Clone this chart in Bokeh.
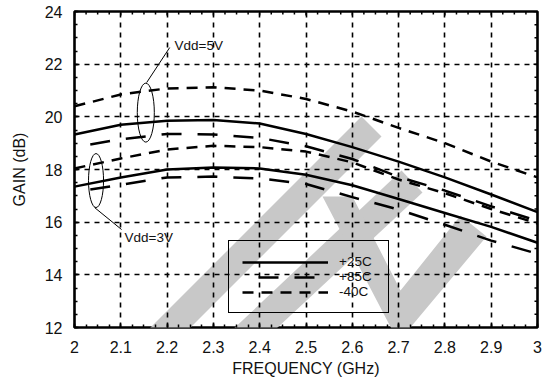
import numpy as np
from bokeh.plotting import figure
from bokeh.models import (SingleIntervalTicker, CustomJSTickFormatter, Label,
                          Legend, LegendItem, PolyAnnotation, Range1d)
from bokeh.embed import file_html
from bokeh.resources import INLINE

# ---------------- data ----------------
freq_ghz = [2.0, 2.1, 2.2, 2.3, 2.4, 2.5, 2.6, 2.7, 2.8, 2.9, 3.0]

gain_5v_25c = [19.33, 19.70, 19.85, 19.88, 19.75, 19.35, 18.85, 18.30, 17.70, 17.05, 16.38]
gain_5v_85c = [18.85, 19.15, 19.35, 19.33, 19.20, 18.88, 18.40, 17.72, 17.20, 16.60, 16.05]
gain_5v_m40c = [20.40, 20.85, 21.08, 21.12, 21.00, 20.68, 20.20, 19.58, 19.00, 18.30, 17.70]

gain_3v_25c = [17.35, 17.70, 18.00, 18.08, 18.04, 17.80, 17.40, 16.88, 16.35, 15.82, 15.22]
gain_3v_85c = [17.15, 17.42, 17.70, 17.73, 17.66, 17.45, 16.95, 16.48, 15.90, 15.30, 14.80]
gain_3v_m40c = [18.04, 18.42, 18.76, 18.90, 18.85, 18.68, 18.27, 17.62, 17.10, 16.50, 15.95]

legend_labels = ["+25C", "+85C", "-40C"]
x_label = "FREQUENCY (GHz)"
y_label = "GAIN (dB)"
x_min, x_max, x_step = 2.0, 3.0, 0.1
y_min, y_max, y_step = 12, 24, 2

FONT = "Liberation Sans"
INK = "#111111"
GRAY = "#c8c8c8"

p = figure(width=546, height=383, output_backend="svg", toolbar_location=None,
           x_range=Range1d(x_min, x_max), y_range=Range1d(y_min, y_max),
           min_border_left=74, min_border_right=9, min_border_top=11, min_border_bottom=56)

# ---------------- watermark (reference pixel geometry -> data) ----------------
def px2x(px):
    return 2 + (px - 74) / 463.0

def px2y(py):
    return 24 - (py - 11) / (316.0 / 12)

wm_polys_px = [
    [(361, 116), (381, 136), (134, 383), (94, 383)],
    [(401, 170), (422, 192), (217, 383), (175, 383)],
    [(322, 196), (352, 196), (400, 290), (460, 215), (486, 236), (404, 334), (394, 334)],
]
for poly in wm_polys_px:
    p.add_layout(PolyAnnotation(xs=[px2x(a) for a, b in poly], ys=[px2y(b) for a, b in poly],
                                fill_color=GRAY, fill_alpha=1, line_color=None, level="image"))

# ---------------- axes ----------------
p.xaxis.ticker = SingleIntervalTicker(interval=x_step, num_minor_ticks=4)
p.yaxis.ticker = SingleIntervalTicker(interval=y_step, num_minor_ticks=4)
p.xaxis.formatter = CustomJSTickFormatter(code="return String(Math.round(tick*10)/10)")

for ax in (p.xaxis[0], p.yaxis[0]):
    ax.axis_line_color = None
    ax.major_tick_in = 4
    ax.major_tick_out = 0
    ax.minor_tick_in = 3
    ax.minor_tick_out = 0
    ax.major_tick_line_color = "black"
    ax.minor_tick_line_color = "black"
    ax.major_tick_line_width = 1.5
    ax.minor_tick_line_width = 1.5
    ax.major_label_text_font = FONT
    ax.major_label_text_font_size = "16px"
    ax.major_label_text_color = INK
    ax.axis_label_text_font = FONT
    ax.axis_label_text_font_size = "16px"
    ax.axis_label_text_font_style = "normal"
    ax.axis_label_text_color = INK

p.xaxis.axis_label = x_label
p.yaxis.axis_label = y_label
p.xaxis.major_label_standoff = 13
p.xaxis.axis_label_standoff = 4
p.yaxis.major_label_standoff = 12
p.yaxis.axis_label_standoff = 14

# inward ticks on the top and right edges of the frame
px_per_x = 463.0 / (x_max - x_min)
px_per_y = 316.0 / (y_max - y_min)
top_x = np.round(np.arange(x_min, x_max + 1e-9, x_step / 4), 4)
top_len = np.where(np.isclose((top_x - x_min) / x_step, np.round((top_x - x_min) / x_step)), 4, 3) / px_per_y
p.segment(x0=top_x, y0=np.full(len(top_x), y_max), x1=top_x, y1=y_max - top_len,
          line_color="black", line_width=1.5)
right_y = np.arange(y_min, y_max + 1e-9, y_step / 4)
right_len = np.where(np.isclose((right_y - y_min) / y_step, np.round((right_y - y_min) / y_step)), 4, 3) / px_per_x
p.segment(x0=np.full(len(right_y), x_max), y0=right_y, x1=x_max - right_len, y1=right_y,
          line_color="black", line_width=1.5)

p.outline_line_color = "black"
p.outline_line_width = 2.6
p.outline_line_alpha = 1

for g in (p.xgrid[0], p.ygrid[0]):
    g.grid_line_color = "black"
    g.grid_line_width = 1.6
    g.grid_line_dash = "5 5"

# ---------------- curves ----------------
LW = 2.5
LONG = "20 16"
SHORT = "11 8"
r25 = p.line(freq_ghz, gain_5v_25c, line_color="black", line_width=LW)
r85 = p.line(freq_ghz, gain_5v_85c, line_color="black", line_width=LW, line_dash=LONG, line_dash_offset=20)
rm40 = p.line(freq_ghz, gain_5v_m40c, line_color="black", line_width=LW, line_dash=SHORT)
p.line(freq_ghz, gain_3v_25c, line_color="black", line_width=LW)
p.line(freq_ghz, gain_3v_85c, line_color="black", line_width=LW, line_dash=LONG, line_dash_offset=20)
p.line(freq_ghz, gain_3v_m40c, line_color="black", line_width=LW, line_dash=SHORT)

# ---------------- annotations ----------------
ell_x = [2.154, 2.0465]
ell_y = [20.16, 17.58]
ell_w = [0.0368, 0.0325]
ell_h = [2.24, 2.05]
p.ellipse(x=ell_x, y=ell_y, width=ell_w, height=ell_h, fill_color=None,
          line_color="black", line_width=1)

lead_xs = [[2.2056, 2.1558], [2.0433, 2.1017]]
lead_ys = [[22.63, 21.30], [16.556, 15.72]]
p.multi_line(xs=lead_xs, ys=lead_ys, line_color="black", line_width=1)

ann_text = ["Vdd=5V", "Vdd=3V"]
ann_x = [2.216, 2.108]
ann_y = [22.71, 15.42]
for t, x, y in zip(ann_text, ann_x, ann_y):
    p.add_layout(Label(x=x, y=y, text=t, text_font=FONT, text_font_size="13.5px",
                       text_color=INK, text_baseline="middle", text_align="left"))

# ---------------- legend ----------------
legend = Legend(items=[LegendItem(label=lab, renderers=[r]) for lab, r in
                       zip(legend_labels, [r25, r85, rm40])],
                location=(154, 14), orientation="vertical",
                glyph_width=86, glyph_height=14, label_height=14, label_width=36,
                label_standoff=11, spacing=-1, padding=13, margin=0,
                label_text_font=FONT, label_text_font_size="13.5px", label_text_color=INK,
                border_line_color="black", border_line_width=1.5, border_line_alpha=1,
                background_fill_color="white", background_fill_alpha=0)
p.add_layout(legend)

open("out.html", "w").write(file_html(p, INLINE))
